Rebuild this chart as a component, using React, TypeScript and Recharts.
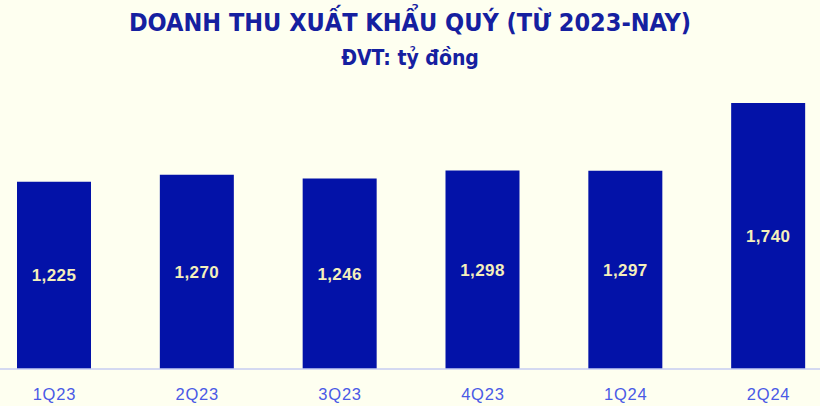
import { BarChart, Bar, XAxis, YAxis, LabelList } from 'recharts';

const quarters = ['1Q23', '2Q23', '3Q23', '4Q23', '1Q24', '2Q24'];
const revenue = [1225, 1270, 1246, 1298, 1297, 1740];

const data = quarters.map((q, i) => ({ quarter: q, value: revenue[i] }));

const BG = '#fefff0';
const BAR = '#0312a8';
const TITLE = '#1520a0';
const CONDENSED = '"DejaVu Sans Condensed", "Liberation Sans Narrow", "Liberation Sans", sans-serif';

function formatValue(v: number): string {
  return v.toLocaleString('en-US');
}

export default function App() {
  return (
    <div
      style={{
        position: 'fixed',
        top: 0,
        left: 0,
        width: 820,
        height: 406,
        overflow: 'hidden',
        background: BG,
        fontFamily: CONDENSED,
      }}
    >
      <div
        style={{
          position: 'absolute',
          top: 8,
          left: 0,
          width: 820,
          textAlign: 'center',
          color: TITLE,
          fontWeight: 700,
          fontSize: 25,
          lineHeight: '30px',
        }}
      >
        DOANH THU XUẤT KHẨU QUÝ (TỪ 2023-NAY)
      </div>
      <div
        style={{
          position: 'absolute',
          top: 45,
          left: 0,
          width: 820,
          textAlign: 'center',
          color: TITLE,
          fontWeight: 700,
          fontSize: 21,
          lineHeight: '26px',
        }}
      >
        ĐVT: tỷ đồng
      </div>
      <div style={{ position: 'absolute', left: -17.5, top: 0 }}>
        <BarChart
          width={857}
          height={406}
          data={data}
          margin={{ top: 103, right: 0, bottom: 0, left: 0 }}
        >
          <XAxis
            dataKey="quarter"
            height={37}
            axisLine={{ stroke: '#c6ccf2', strokeWidth: 1.5 }}
            tickLine={false}
            tickSize={0}
            tickMargin={19}
            tick={{
              fill: '#4a5ae6',
              fontSize: 16.5,
              letterSpacing: 0.8,
              fontFamily: '"Liberation Sans", Arial, sans-serif',
            }}
          />
          <YAxis hide domain={[0, 1740]} />
          <Bar dataKey="value" fill={BAR} barSize={74} isAnimationActive={false}>
            <LabelList
              dataKey="value"
              position="center"
              formatter={(v: number) => formatValue(v)}
              fill="#f4efbb"
              fontSize={17}
              fontWeight={700}
              letterSpacing={0.4}
              fontFamily='"Liberation Sans", Arial, sans-serif'
            />
          </Bar>
        </BarChart>
      </div>
    </div>
  );
}
